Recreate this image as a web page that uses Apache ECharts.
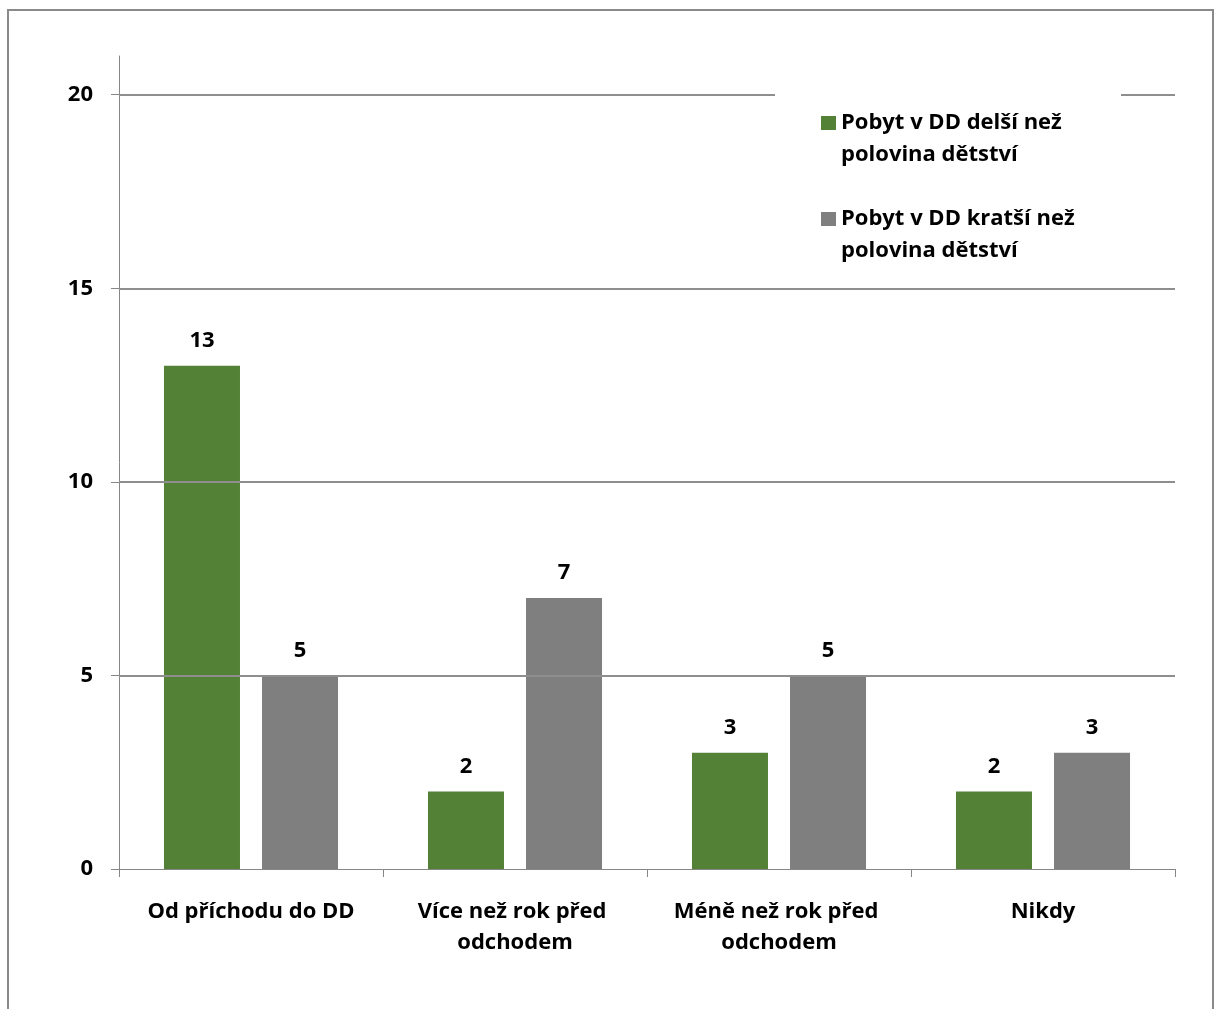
<!DOCTYPE html>
<html><head><meta charset="utf-8">
<script src="https://cdn.jsdelivr.net/npm/echarts@6/dist/echarts.min.js"></script>
<style>
html,body{margin:0;padding:0;background:#fff;overflow:hidden;}
#c{position:absolute;left:0;top:0;width:1217px;height:1009px;}
#frame{position:absolute;left:7px;top:9px;width:1203px;height:1100px;border:2px solid #8a8a8a;pointer-events:none;}
</style></head>
<body>
<div id="c"></div>
<div id="frame"></div>
<script>
const categories = ['Od příchodu do DD', 'Více než rok před odchodem', 'Méně než rok před odchodem', 'Nikdy'];
const seriesNames = ['Pobyt v DD delší než polovina dětství', 'Pobyt v DD kratší než polovina dětství'];
const longerStay = [13, 2, 3, 2];
const shorterStay = [5, 7, 5, 3];
const yTicks = [0, 5, 10, 15, 20];

const FONT = '"Open Sans", Lato, sans-serif';
const FS = 22;
const chart = echarts.init(document.getElementById('c'), null, {renderer: 'canvas'});
const legendLines = {};
legendLines[seriesNames[0]] = '\nPobyt v DD delší než\npolovina dětství';
legendLines[seriesNames[1]] = '\nPobyt v DD kratší než\npolovina dětství';

chart.setOption({
  animation: false,
  backgroundColor: '#fff',
  color: ['#538135', '#7f7f7f'],
  grid: {left: 119, right: 42, top: 56, bottom: 140, containLabel: false},
  legend: {
    orient: 'vertical',
    left: 775, top: 70,
    padding: [5, 40, 5, 46],
    itemWidth: 15, itemHeight: 14, itemGap: 0,
    backgroundColor: '#ffffff',
    z: 50, zlevel: 1,
    icon: 'rect',
    data: seriesNames,
    formatter: n => legendLines[n],
    textStyle: {fontFamily: FONT, fontWeight: 'bold', fontSize: FS, lineHeight: 32, color: '#000', width: 240}
  },
  xAxis: {
    type: 'category',
    data: categories,
    axisLine: {lineStyle: {color: '#868686', width: 1}},
    axisTick: {show: true, length: 8, lineStyle: {color: '#868686'}},
    axisLabel: {
      interval: 0, margin: 27, color: '#000',
      fontFamily: FONT, fontWeight: 'bold', fontSize: FS, lineHeight: 31,
      width: 258, overflow: 'break'
    }
  },
  yAxis: {
    type: 'value', min: 0, max: 21, interval: 5,
    axisLine: {show: true, lineStyle: {color: '#868686', width: 1}},
    axisTick: {show: true, length: 8, customValues: yTicks, lineStyle: {color: '#868686'}},
    axisLabel: {customValues: yTicks, margin: 26, color: '#000', fontFamily: FONT, fontWeight: 'bold', fontSize: FS},
    splitLine: {show: false}
  },
  series: [
    {
      name: seriesNames[0], type: 'bar', data: longerStay,
      barWidth: 76, barGap: '29%',
      label: {show: true, position: 'top', distance: 14, color: '#000', fontFamily: FONT, fontWeight: 'bold', fontSize: FS},
      markLine: {
        silent: true, symbol: 'none', label: {show: false},
        lineStyle: {color: '#8e8e8e', width: 2, type: 'solid'},
        data: yTicks.filter(v => v > 0).map(v => ({yAxis: v}))
      },
      z: 3
    },
    {
      name: seriesNames[1], type: 'bar', data: shorterStay,
      barWidth: 76,
      label: {show: true, position: 'top', distance: 14, color: '#000', fontFamily: FONT, fontWeight: 'bold', fontSize: FS},
      z: 3
    }
  ]
});
</script>
</body></html>
